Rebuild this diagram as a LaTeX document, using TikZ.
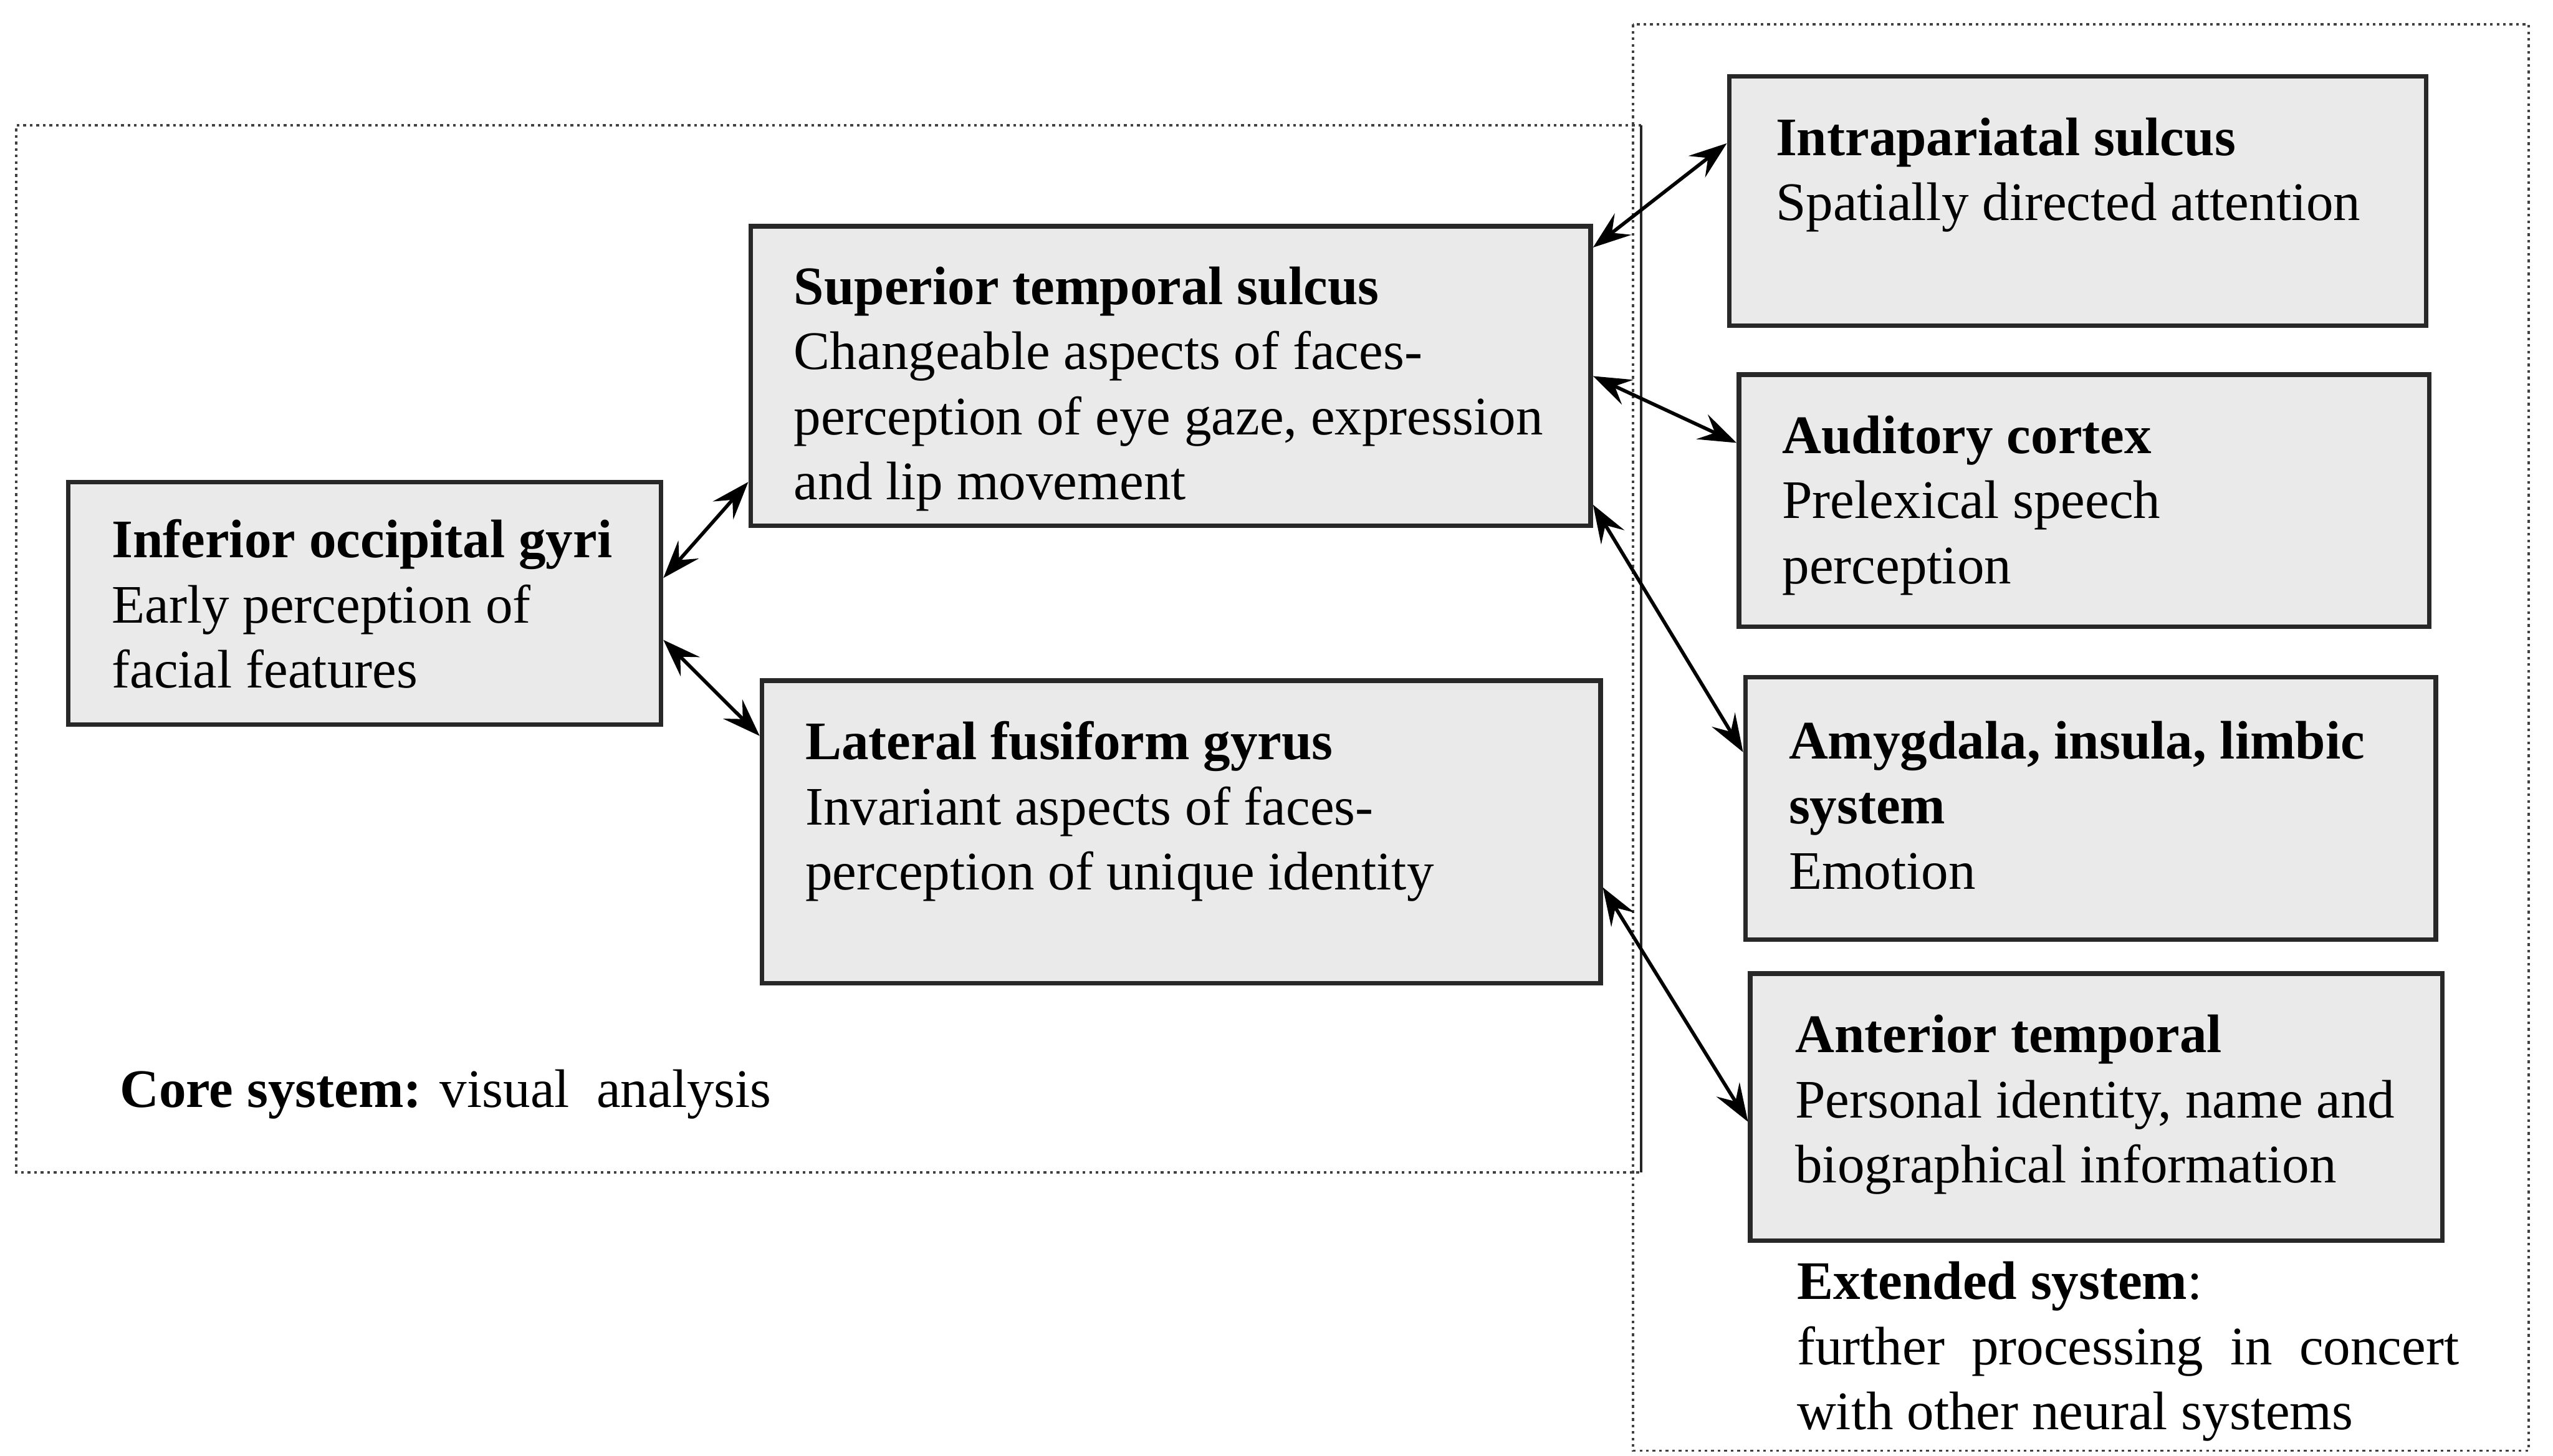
\documentclass[tikz,border=0pt]{standalone}
\usepackage{fontspec}
\setmainfont{Liberation Serif}
\usetikzlibrary{arrows.meta,fit,calc}
\definecolor{boxfill}{RGB}{234,234,234}
\definecolor{boxline}{RGB}{40,40,40}
\begin{document}
\begin{tikzpicture}[x=0.3pt,y=-0.3pt,
  box/.style={draw=boxline, fill=boxfill, line width=0.85pt, inner sep=0pt},
  txt/.style={inner sep=0pt, align=left, font=\fontsize{10}{12}\selectfont, anchor=west},
  link/.style={{Stealth[length=7pt,width=5pt,inset=2.6pt]}-{Stealth[length=7pt,width=5pt,inset=2.6pt]}, line width=0.65pt, black},
  frame/.style={draw=black!75, line width=0.45pt, dash pattern=on 0.5pt off 0.7pt}]
\useasboundingbox (0,0) rectangle (1568,894);
% system frames
\draw[frame] (1003,15) rectangle (1553,891);
\draw[frame] (1008,77) -- (10,77) -- (10,720) -- (1008,720);
\draw[line width=0.5pt, black!85] (1008,77) -- (1008,720);
% boxes
\node[box, fit={(42,296)(406,445)}] (iog) {};
\node[box, fit={(461,139)(977,323)}] (sts) {};
\node[box, fit={(468,418)(983,604)}] (lfg) {};
\node[box, fit={(1062,47)(1490,200)}] (ips) {};
\node[box, fit={(1068,230)(1492,385)}] (ac) {};
\node[box, fit={(1072,416)(1496,577)}] (ail) {};
\node[box, fit={(1075,598)(1500,762)}] (at) {};
% texts
\node[txt] (iogt) at (68,374.5) {\strut\textbf{Inferior occipital gyri}\\Early perception of\\facial features\strut};
\node[txt] (stst) at (487,239) {\strut\textbf{Superior temporal sulcus}\\Changeable aspects of faces-\\perception of eye gaze, expression\\and lip movement\strut};
\node[txt] (lfgt) at (494,498.5) {\strut\textbf{Lateral fusiform gyrus}\\Invariant aspects of faces-\\perception of unique identity\strut};
\node[txt] (ipst) at (1090,107.5) {\strut\textbf{Intrapariatal sulcus}\\Spatially directed attention\strut};
\node[txt] (act) at (1094,310.5) {\strut\textbf{Auditory cortex}\\Prelexical speech\\perception\strut};
\node[txt] (ailt) at (1098,498) {\strut\textbf{Amygdala, insula, limbic}\\\textbf{system}\\Emotion\strut};
\node[txt] (att) at (1102,678.5) {\strut\textbf{Anterior temporal}\\Personal identity, name and\\biographical information\strut};
\node[txt] (extt) at (1103,830) {\strut\textbf{Extended system}:\\\makebox[122pt][s]{further processing in concert}\\with other neural systems\strut};
\node[txt] (coret) at (73,672) {\strut\textbf{Core system:} visual~~analysis\strut};
% connectors
\draw[link] ($(iog.east)+(0,-15.5)$) -- ($(sts.west)+(0,65)$);
\draw[link] ($(iog.east)+(0,22.5)$) -- ($(lfg.west)+(0,-59)$);
\draw[link] ($(sts.east)+(0,-79)$) -- ($(ips.west)+(0,-35.5)$);
\draw[link] (sts.east) -- ($(ac.west)+(0,-35.5)$);
\draw[link] ($(sts.east)+(0,79)$) -- ($(ail.west)+(0,-34.5)$);
\draw[link] ($(lfg.east)+(0,34)$) -- ($(at.west)+(0,9)$);
\end{tikzpicture}
\end{document}
